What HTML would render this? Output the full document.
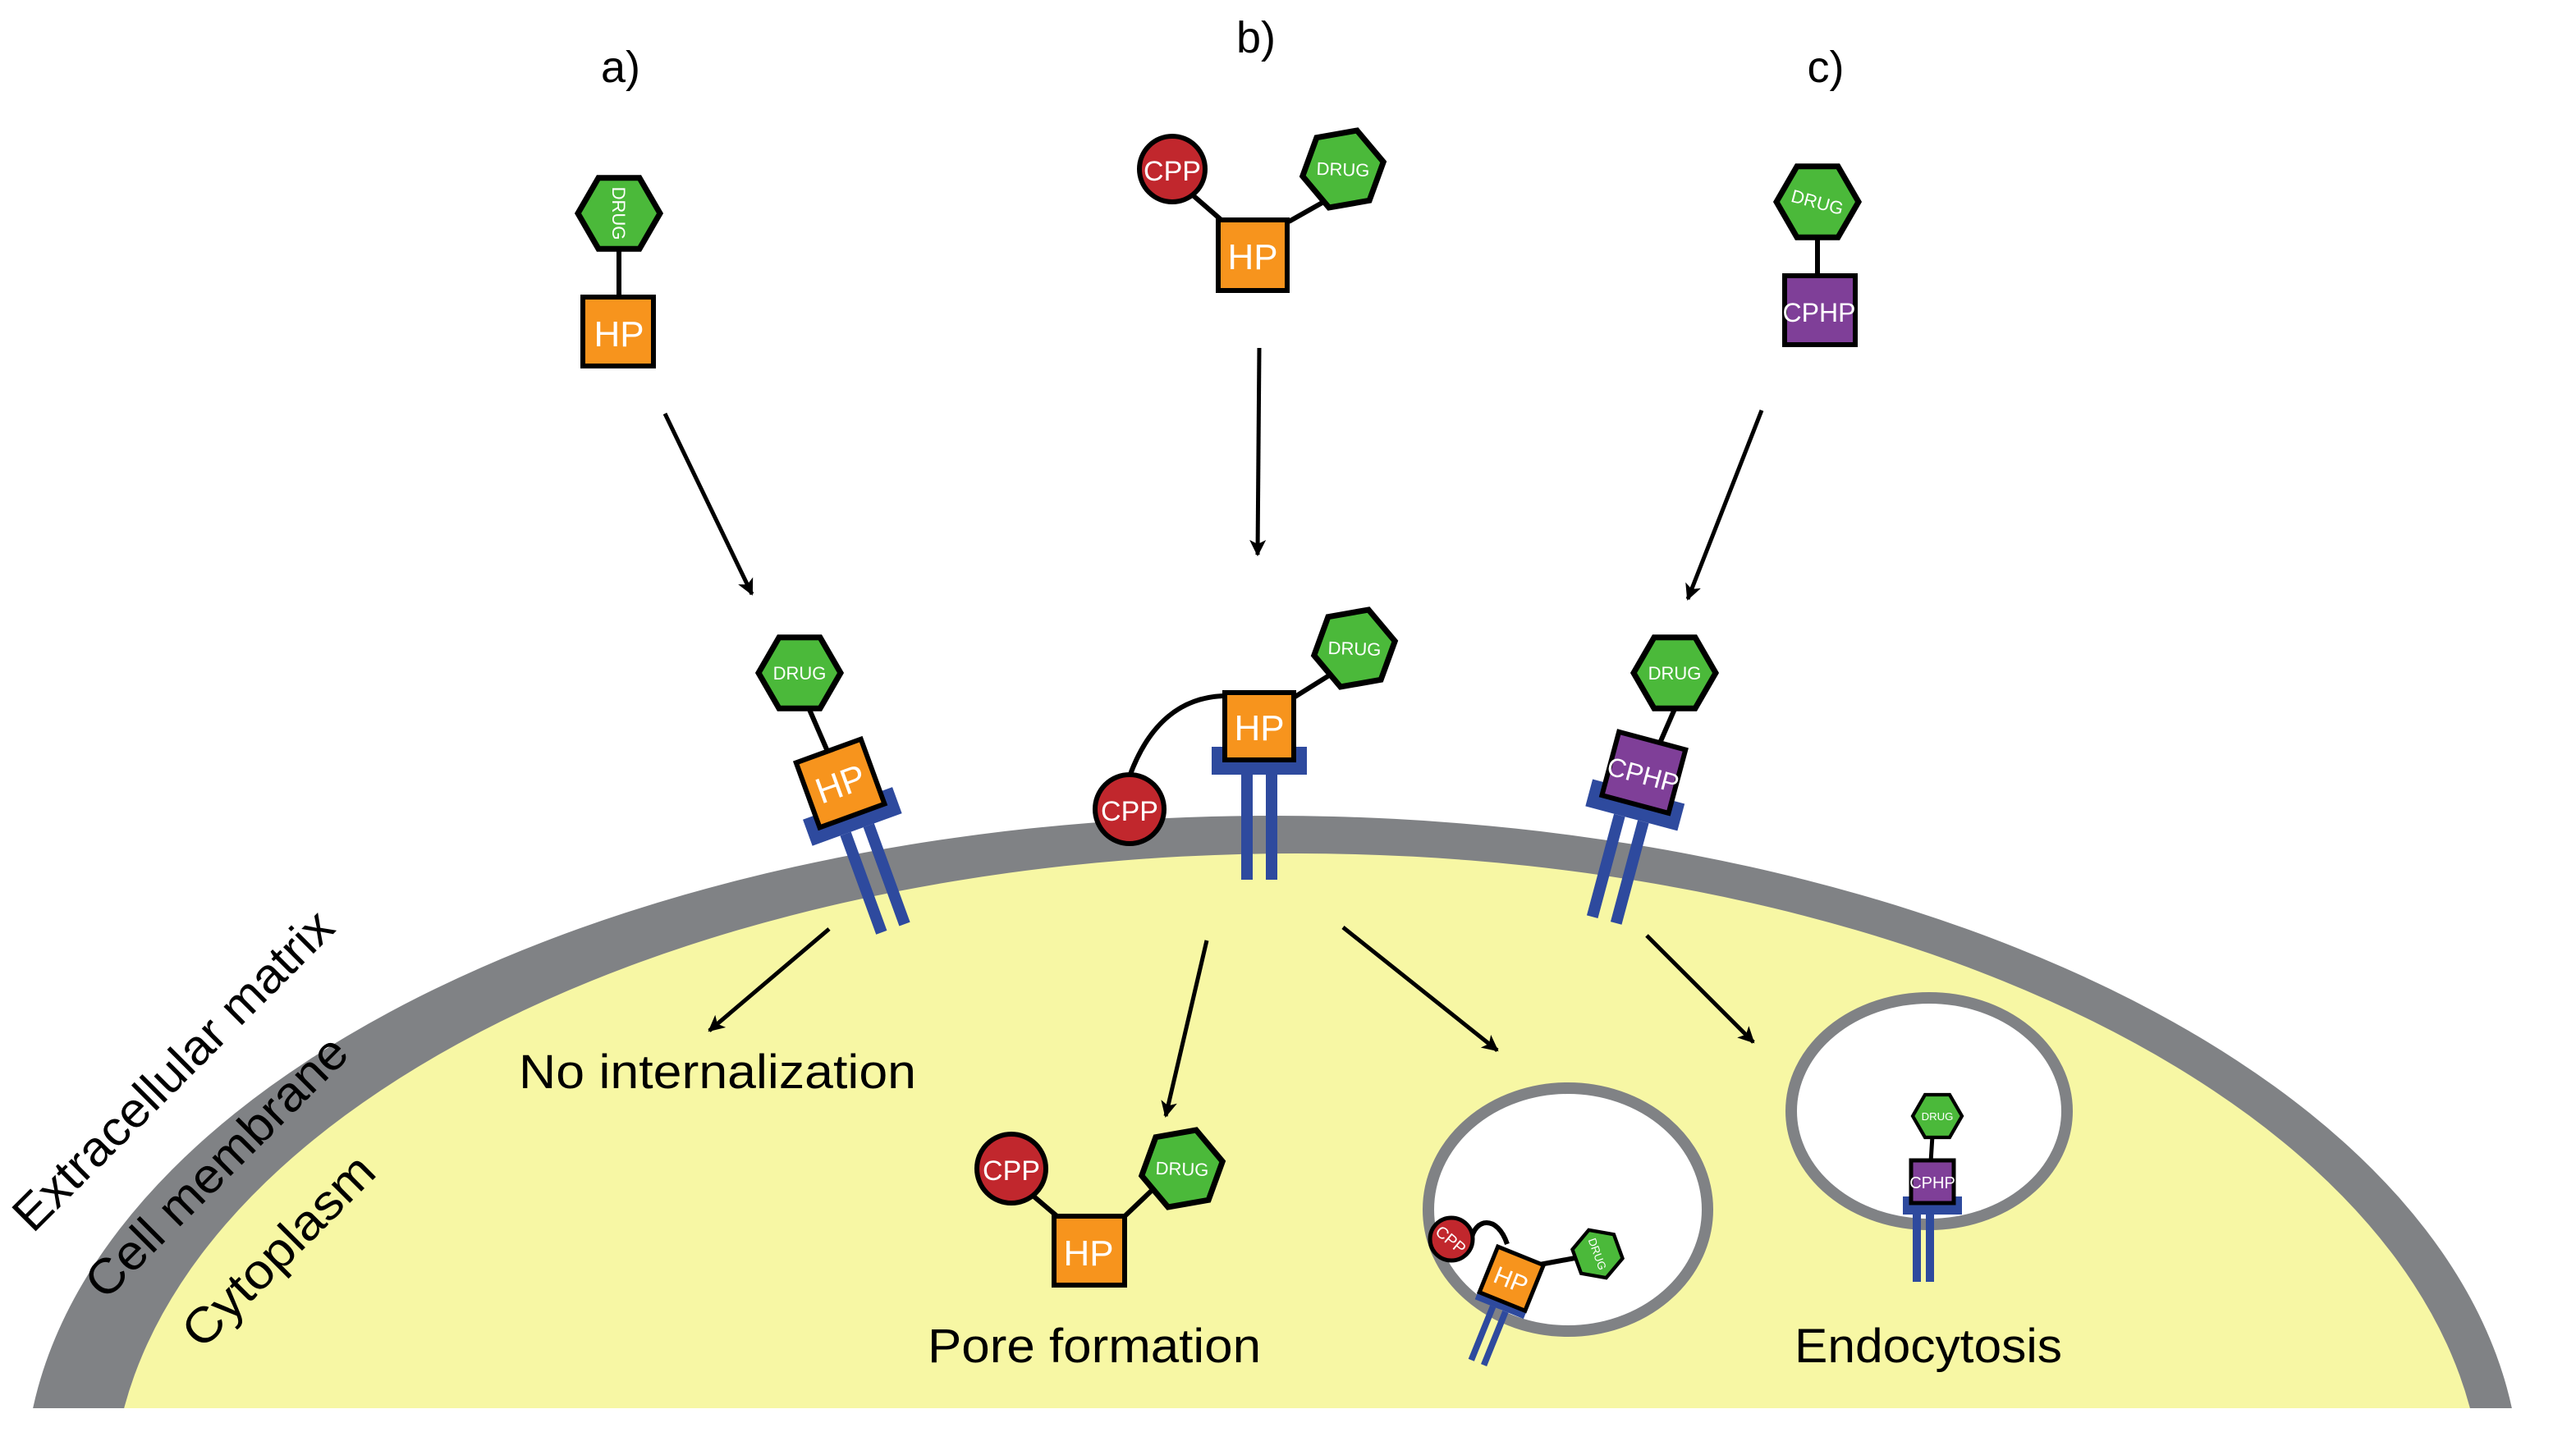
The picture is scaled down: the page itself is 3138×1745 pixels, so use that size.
<!DOCTYPE html>
<html><head><meta charset="utf-8"><style>
html,body{margin:0;padding:0;background:#fff;width:3138px;height:1745px;overflow:hidden}
svg{display:block;position:absolute;left:0;top:0}
text{font-family:"Liberation Sans",sans-serif}
</style></head><body>
<svg width="3138" height="1745" viewBox="0 0 1569 872.5" xmlns="http://www.w3.org/2000/svg">
<defs>
<polygon id="hex" points="25,0 12.5,21.65 -12.5,21.65 -25,0 -12.5,-21.65 12.5,-21.65" fill="#4BB93A" stroke="#000" stroke-width="3.5" stroke-linejoin="miter"/>
<marker id="ah" markerWidth="10" markerHeight="10" refX="9" refY="5" orient="auto" markerUnits="userSpaceOnUse" viewBox="0 0 10 10">
<path d="M0,0 L10,5 L0,10 L2.5,5 Z" fill="#000"/>
</marker>
<g id="rec">
<rect x="-29" y="-8" width="58" height="17" fill="#2E4A9E"/>
<rect x="-11" y="9" width="7" height="64" fill="#2E4A9E"/>
<rect x="4" y="9" width="7" height="64" fill="#2E4A9E"/>
</g>
<clipPath id="cut"><rect x="0" y="0" width="1569" height="858"/></clipPath>
</defs>

<g clip-path="url(#cut)">
<ellipse cx="775" cy="905" rx="760" ry="408" fill="#808285"/>
<ellipse cx="790" cy="915" rx="722" ry="395" fill="#F7F7A4"/>
</g>

<text x="378" y="50" font-size="27" text-anchor="middle">a)</text>
<text x="765" y="32" font-size="27" text-anchor="middle">b)</text>
<text x="1112" y="50" font-size="27" text-anchor="middle">c)</text>

<!-- a top -->
<line x1="377" y1="150" x2="377" y2="180" stroke="#000" stroke-width="3"/>
<g transform="translate(377,130)"><use href="#hex"/><text transform="rotate(90)" font-size="11" fill="#fff" text-anchor="middle" y="4">DRUG</text></g>
<rect x="355" y="181" width="43" height="42" fill="#F7941D" stroke="#000" stroke-width="3"/>
<text x="377" y="211" font-size="22" fill="#fff" text-anchor="middle">HP</text>

<!-- b top -->
<line x1="722" y1="115" x2="745" y2="135" stroke="#000" stroke-width="3"/>
<line x1="785" y1="135" x2="808" y2="122" stroke="#000" stroke-width="3"/>
<circle cx="714" cy="103" r="20" fill="#C1272D" stroke="#000" stroke-width="3"/>
<text x="714" y="110" font-size="17" fill="#fff" text-anchor="middle">CPP</text>
<g transform="translate(818,103) rotate(-10)"><use href="#hex"/><text font-size="11" fill="#fff" text-anchor="middle" y="4" transform="rotate(12)">DRUG</text></g>
<rect x="742" y="134" width="42" height="43" fill="#F7941D" stroke="#000" stroke-width="3"/>
<text x="763" y="164" font-size="22" fill="#fff" text-anchor="middle">HP</text>

<!-- c top -->
<line x1="1107" y1="145" x2="1107" y2="168" stroke="#000" stroke-width="3"/>
<g transform="translate(1107,123)"><use href="#hex"/><text font-size="11" fill="#fff" text-anchor="middle" y="4" transform="rotate(15)">DRUG</text></g>
<rect x="1087" y="168" width="43" height="42" fill="#7F3F98" stroke="#000" stroke-width="3"/>
<text x="1108" y="196" font-size="16" fill="#fff" text-anchor="middle">CPHP</text>

<g stroke="#000" stroke-width="2.5" marker-end="url(#ah)">
<line x1="405" y1="252" x2="458" y2="362"/>
<line x1="767" y1="212" x2="766" y2="338"/>
<line x1="1073" y1="250" x2="1028" y2="365"/>
<line x1="505" y1="566" x2="432" y2="628"/>
<line x1="735" y1="573" x2="710" y2="680"/>
<line x1="818" y1="565" x2="912" y2="640"/>
<line x1="1003" y1="570" x2="1068" y2="635"/>
</g>

<!-- a bound -->
<line x1="492" y1="430" x2="505" y2="460" stroke="#000" stroke-width="3"/>
<g transform="translate(519,497) rotate(-20)">
<use href="#rec"/>
<rect x="-21" y="-42" width="42" height="42" fill="#F7941D" stroke="#000" stroke-width="3"/>
<text x="0" y="-13" font-size="22" fill="#fff" text-anchor="middle">HP</text>
</g>
<g transform="translate(487,410)"><use href="#hex"/><text font-size="11" fill="#fff" text-anchor="middle" y="4">DRUG</text></g>

<!-- b bound -->
<path d="M688,473 C700,440 720,425 745,424" fill="none" stroke="#000" stroke-width="3"/>
<line x1="788" y1="425" x2="812" y2="410" stroke="#000" stroke-width="3"/>
<g transform="translate(767,463)">
<use href="#rec"/>
<rect x="-21" y="-41" width="42" height="41" fill="#F7941D" stroke="#000" stroke-width="3"/>
<text x="0" y="-12" font-size="22" fill="#fff" text-anchor="middle">HP</text>
</g>
<g transform="translate(825,395) rotate(-10)"><use href="#hex"/><text font-size="11" fill="#fff" text-anchor="middle" y="4" transform="rotate(12)">DRUG</text></g>
<circle cx="688" cy="493" r="21" fill="#C1272D" stroke="#000" stroke-width="3"/>
<text x="688" y="500" font-size="17" fill="#fff" text-anchor="middle">CPP</text>

<!-- c bound -->
<line x1="1020" y1="432" x2="1010" y2="455" stroke="#000" stroke-width="3"/>
<g transform="translate(996,490) rotate(15)">
<use href="#rec"/>
<rect x="-21" y="-40" width="42" height="40" fill="#7F3F98" stroke="#000" stroke-width="3"/>
<text x="0" y="-13" font-size="16" fill="#fff" text-anchor="middle">CPHP</text>
</g>
<g transform="translate(1020,410)"><use href="#hex"/><text font-size="11" fill="#fff" text-anchor="middle" y="4">DRUG</text></g>

<!-- rotated labels -->
<text transform="translate(20,752) rotate(-45)" font-size="30" textLength="262" lengthAdjust="spacingAndGlyphs">Extracellular matrix</text>
<text transform="translate(64,793) rotate(-45)" font-size="30" textLength="212" lengthAdjust="spacingAndGlyphs">Cell membrane</text>
<text transform="translate(123,823) rotate(-45)" font-size="30" textLength="152" lengthAdjust="spacingAndGlyphs">Cytoplasm</text>

<text x="316" y="663" font-size="29" textLength="242" lengthAdjust="spacingAndGlyphs">No internalization</text>

<!-- pore -->
<line x1="625" y1="725" x2="645" y2="742" stroke="#000" stroke-width="3"/>
<line x1="684" y1="742" x2="705" y2="722" stroke="#000" stroke-width="3"/>
<circle cx="616" cy="712" r="21" fill="#C1272D" stroke="#000" stroke-width="3"/>
<text x="616" y="719" font-size="17" fill="#fff" text-anchor="middle">CPP</text>
<g transform="translate(720,712) rotate(-10)"><use href="#hex"/><text font-size="11" fill="#fff" text-anchor="middle" y="4" transform="rotate(12)">DRUG</text></g>
<rect x="642" y="741" width="43" height="42" fill="#F7941D" stroke="#000" stroke-width="3"/>
<text x="663" y="771" font-size="22" fill="#fff" text-anchor="middle">HP</text>
<text x="565" y="830" font-size="29" textLength="203" lengthAdjust="spacingAndGlyphs">Pore formation</text>

<!-- vesicle 1 -->
<ellipse cx="955" cy="737" rx="85" ry="74" fill="#fff" stroke="#808285" stroke-width="7"/>
<path d="M896,756 C898,742 912,740 918,758" fill="none" stroke="#000" stroke-width="3"/>
<line x1="935" y1="771" x2="962" y2="766" stroke="#000" stroke-width="3"/>
<g transform="translate(915,793) rotate(22)">
<g transform="scale(0.55)"><use href="#rec"/></g>
<rect x="-15" y="-30" width="30" height="30" fill="#F7941D" stroke="#000" stroke-width="2.5"/>
<text x="0" y="-9" font-size="15" fill="#fff" text-anchor="middle">HP</text>
</g>
<circle cx="884" cy="755" r="13" fill="#C1272D" stroke="#000" stroke-width="2.5"/>
<text x="884" y="759" font-size="10" fill="#fff" text-anchor="middle" transform="rotate(40 884 755)">CPP</text>
<g transform="translate(973,764) scale(0.62) rotate(70)"><use href="#hex"/><text font-size="11" fill="#fff" text-anchor="middle" y="4">DRUG</text></g>

<!-- vesicle 2 -->
<ellipse cx="1175" cy="677" rx="84" ry="69" fill="#fff" stroke="#808285" stroke-width="7"/>
<line x1="1177" y1="692" x2="1176" y2="708" stroke="#000" stroke-width="2.5"/>
<g transform="translate(1177,734)">
<rect x="-18" y="-5" width="36" height="11" fill="#2E4A9E"/>
<rect x="-12" y="6" width="5" height="41" fill="#2E4A9E"/>
<rect x="-4" y="6" width="5" height="41" fill="#2E4A9E"/>
<rect x="-13" y="-27" width="26" height="26" fill="#7F3F98" stroke="#000" stroke-width="2.5"/>
<text x="0" y="-10" font-size="10" fill="#fff" text-anchor="middle">CPHP</text>
</g>
<g transform="translate(1180,680) scale(0.6)"><use href="#hex"/><text font-size="11" fill="#fff" text-anchor="middle" y="4">DRUG</text></g>
<text x="1093" y="830" font-size="29" textLength="163" lengthAdjust="spacingAndGlyphs">Endocytosis</text>
</svg>
</body></html>
